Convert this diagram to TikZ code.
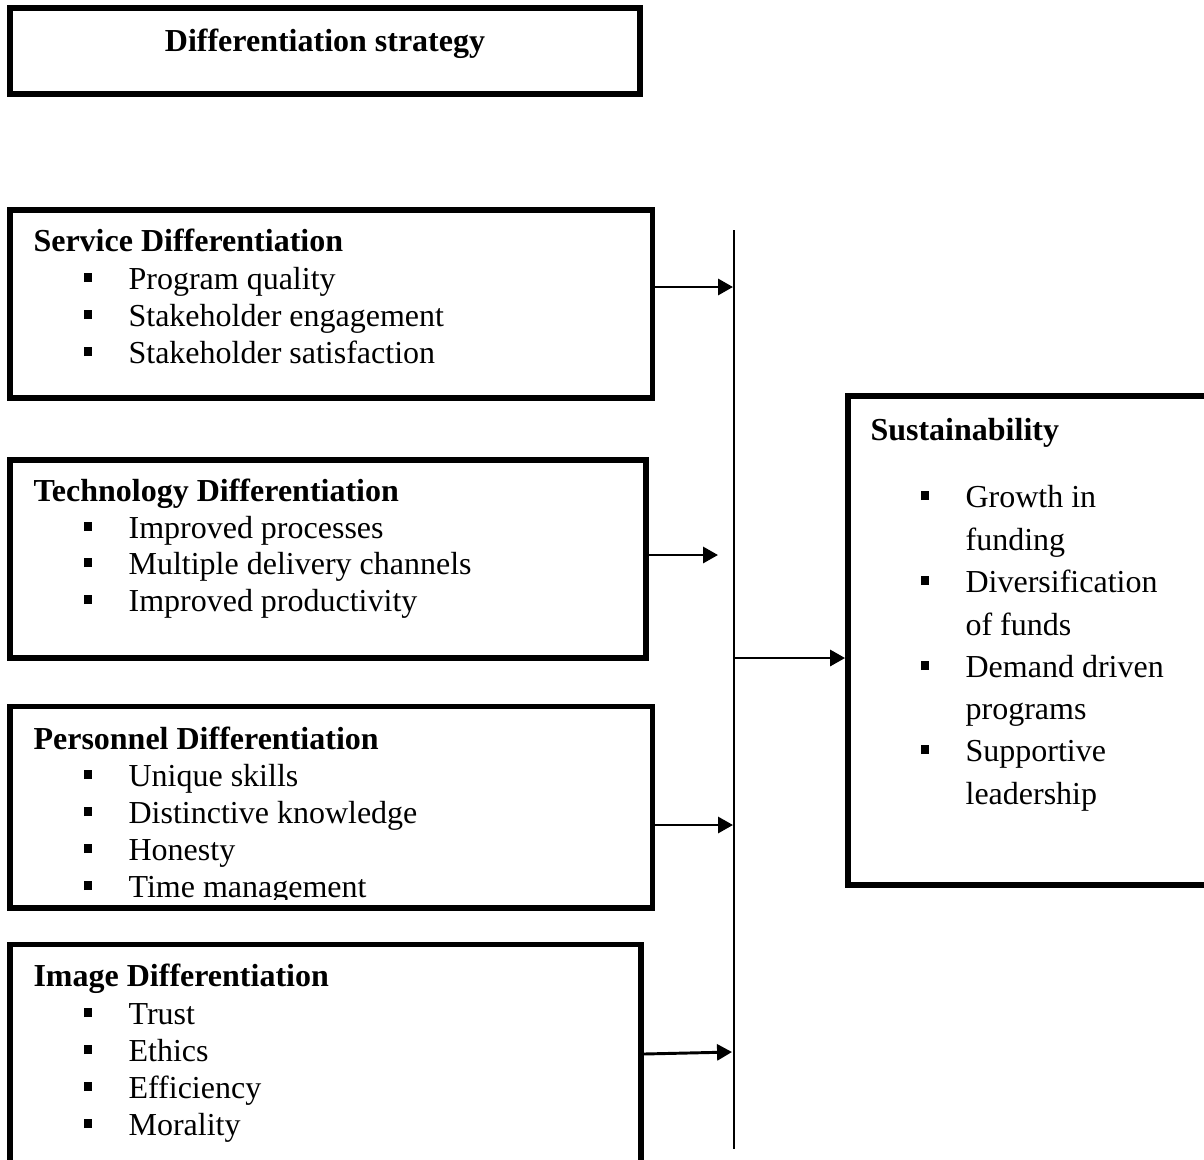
\documentclass[tikz,border=0pt]{standalone}
\usepackage{fontspec}
\setmainfont{Liberation Serif}
\usetikzlibrary{arrows.meta,fit}
\newcommand{\sqbul}{\makebox[16.9pt][l]{\rule[2.6pt]{3.3pt}{3.3pt}}}
\begin{document}
\begin{tikzpicture}[x=0.375pt, y=-0.375pt,
  box/.style={draw, line width=2.2pt, inner sep=0pt},
  ttl/.style={font=\fontsize{12pt}{14pt}\selectfont\bfseries, inner sep=0pt},
  itm/.style={font=\fontsize{12pt}{14pt}\selectfont, inner sep=0pt, anchor=base west},
  arr/.style={line width=1.1pt, -{Triangle[length=5.6pt,width=6pt]}},
  vline/.style={line width=0.75pt}]
\useasboundingbox (0,0) rectangle (1204,1159);
% boxes
\node[box, fit={(10,8) (640,94)}] (top) {};
\node[box, fit={(10,210) (652.5,398)}] (serv) {};
\node[box, fit={(10,460) (646,658)}] (tech) {};
\node[box, fit={(10,706.5) (652.5,908)}] (pers) {};
\node[box, fit={(10,944.5) (641,1180)}] (img) {};
\node[box, fit={(848,396) (1220,885)}] (sust) {};
% top title
\node[ttl, anchor=base] (topt) at (325,52) {Differentiation strategy};
% service
\node[ttl, anchor=base west] (servt) at (33,251) {Service Differentiation};
\node[itm] (s1) at (83,289) {\sqbul Program quality};
\node[itm] (s2) at (83,326) {\sqbul Stakeholder engagement};
\node[itm] (s3) at (83,363) {\sqbul Stakeholder satisfaction};
% technology
\node[ttl, anchor=base west] (techt) at (33,501) {Technology Differentiation};
\node[itm] (t1) at (83,538) {\sqbul Improved processes};
\node[itm] (t2) at (83,574) {\sqbul Multiple delivery channels};
\node[itm] (t3) at (83,611) {\sqbul Improved productivity};
% personnel
\node[ttl, anchor=base west] (perst) at (33,749) {Personnel Differentiation};
\node[itm] (p1) at (83,786) {\sqbul Unique skills};
\node[itm] (p2) at (83,823) {\sqbul Distinctive knowledge};
\node[itm] (p3) at (83,860) {\sqbul Honesty};
\begin{scope}
\clip (0,860) rectangle (700,899);
\node[itm] (p4) at (83,897) {\sqbul Time management};
\end{scope}
% image
\node[ttl, anchor=base west] (imgt) at (33,986) {Image Differentiation};
\node[itm] (i1) at (83,1024) {\sqbul Trust};
\node[itm] (i2) at (83,1061) {\sqbul Ethics};
\node[itm] (i3) at (83,1098) {\sqbul Efficiency};
\node[itm] (i4) at (83,1135) {\sqbul Morality};
% sustainability
\node[ttl, anchor=base west] (sustt) at (870,440) {Sustainability};
\node[itm] (u1) at (920,507) {\sqbul Growth in};
\node[itm] (u2) at (920,550) {\hspace*{16.9pt}funding};
\node[itm] (u3) at (920,592) {\sqbul Diversification};
\node[itm] (u4) at (920,635) {\hspace*{16.9pt}of funds};
\node[itm] (u5) at (920,677) {\sqbul Demand driven};
\node[itm] (u6) at (920,719) {\hspace*{16.9pt}programs};
\node[itm] (u7) at (920,761) {\sqbul Supportive};
\node[itm] (u8) at (920,804) {\hspace*{16.9pt}leadership};
% vertical line
\coordinate (vt) at (734,230);
\coordinate (vb) at (734,1149);
\draw[vline] (vt) -- (vb);
% arrows
\coordinate (a1) at (733,287);
\coordinate (a2) at (718,555);
\coordinate (a3) at (733,825);
\coordinate (a4) at (732,1052);
\coordinate (a4s) at (0,1054);
\coordinate (vm) at (734,658);
\draw[arr] (serv.east |- a1) -- (a1);
\draw[arr] (tech.east |- a2) -- (a2);
\draw[arr] (pers.east |- a3) -- (a3);
\draw[arr] (img.east |- a4s) -- (a4);
\draw[arr] (vm) -- (sust.west |- vm);
\end{tikzpicture}
\end{document}
